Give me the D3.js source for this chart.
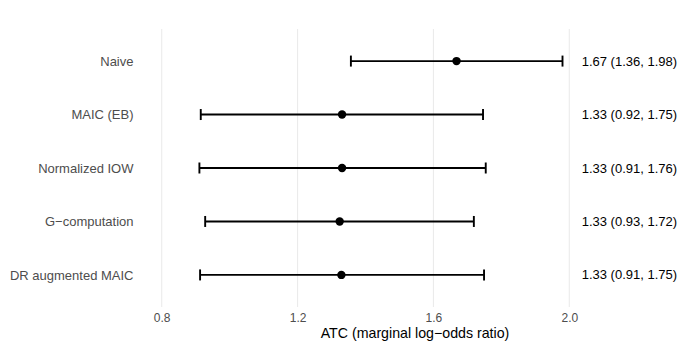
<!DOCTYPE html>
<html lang="en">

<head>
    <meta charset="utf-8">
    <title>ATC forest plot</title>
    <script src="https://cdn.jsdelivr.net/npm/d3@7"></script>
</head>
<style>
    body { margin: 0; background: #fff; }
    text { font-family: "Liberation Sans", Arial, sans-serif; }
</style>

<body>
    <script>

     // methods, top to bottom
     var methods = ["Naive", "MAIC (EB)", "Normalized IOW", "G\u2212computation", "DR augmented MAIC"];
     var estimate = [1.668, 1.331, 1.331, 1.324, 1.329];
     var lower = [1.357, 0.915, 0.911, 0.928, 0.913];
     var upper = [1.980, 1.746, 1.754, 1.719, 1.749];
     var ciLabels = ["1.67 (1.36, 1.98)", "1.33 (0.92, 1.75)", "1.33 (0.91, 1.76)",
                     "1.33 (0.93, 1.72)", "1.33 (0.91, 1.75)"];
     var xTicks = [0.8, 1.2, 1.6, 2.0];

     var width = 698, height = 349;
     var panelTop = 29, panelBottom = 307;

     var x = d3.scaleLinear()
               .domain([0.8, 2.0])
               .range([161.7, 569.3]);

     var y = d3.scalePoint()
               .domain(methods)
               .range([panelTop, panelBottom])
               .padding(0.6);

     var svg = d3.select("body").append("svg")
                 .attr("width", width)
                 .attr("height", height);

     // vertical grid lines
     svg.append("g").selectAll("line")
        .data(xTicks)
        .enter().append("line")
        .attr("x1", function(d) { return x(d); })
        .attr("x2", function(d) { return x(d); })
        .attr("y1", panelTop)
        .attr("y2", panelBottom)
        .attr("stroke", "#ebebeb")
        .attr("stroke-width", 1.1);

     var rows = methods.map(function(m, i) {
         return { name: m, est: estimate[i], lo: lower[i], hi: upper[i], label: ciLabels[i] };
     });

     var capH = 5.5;
     var g = svg.append("g");

     // interval lines
     g.selectAll(".ci").data(rows).enter().append("line")
      .attr("x1", function(d) { return x(d.lo); })
      .attr("x2", function(d) { return x(d.hi); })
      .attr("y1", function(d) { return y(d.name); })
      .attr("y2", function(d) { return y(d.name); })
      .attr("stroke", "black")
      .attr("stroke-width", 1.9);

     // caps
     ["lo", "hi"].forEach(function(k) {
         g.selectAll(".cap-" + k).data(rows).enter().append("line")
          .attr("x1", function(d) { return x(d[k]); })
          .attr("x2", function(d) { return x(d[k]); })
          .attr("y1", function(d) { return y(d.name) - capH; })
          .attr("y2", function(d) { return y(d.name) + capH; })
          .attr("stroke", "black")
          .attr("stroke-width", 1.9);
     });

     // point estimates
     g.selectAll("circle").data(rows).enter().append("circle")
      .attr("cx", function(d) { return x(d.est); })
      .attr("cy", function(d) { return y(d.name); })
      .attr("r", 4.2)
      .attr("fill", "black");

     // text column on the right
     svg.append("g").selectAll("text").data(rows).enter().append("text")
        .attr("x", 581.7)
        .attr("y", function(d) { return y(d.name); })
        .attr("dy", "0.35em")
        .attr("font-size", 13)
        .attr("fill", "black")
        .text(function(d) { return d.label; });

     // axes
     var xAxis = svg.append("g")
                    .attr("transform", "translate(0," + panelBottom + ")")
                    .call(d3.axisBottom(x).tickValues(xTicks).tickFormat(d3.format(".1f"))
                                          .tickSize(0).tickPadding(6.5));
     xAxis.select(".domain").remove();
     xAxis.selectAll("text").attr("font-size", 12).attr("fill", "#4d4d4d")
          .style("font-family", "Liberation Sans, Arial, sans-serif");

     var yAxis = svg.append("g")
                    .attr("transform", "translate(133.5,0)")
                    .call(d3.axisLeft(y).tickSize(0).tickPadding(0));
     yAxis.select(".domain").remove();
     yAxis.selectAll("text").attr("font-size", 13).attr("fill", "#4d4d4d")
          .style("font-family", "Liberation Sans, Arial, sans-serif");

     svg.append("text")
        .attr("x", 415)
        .attr("y", 337.5)
        .attr("text-anchor", "middle")
        .attr("font-size", 14.2)
        .attr("fill", "black")
        .text("ATC (marginal log\u2212odds ratio)");

    </script>
</body>

</html>
